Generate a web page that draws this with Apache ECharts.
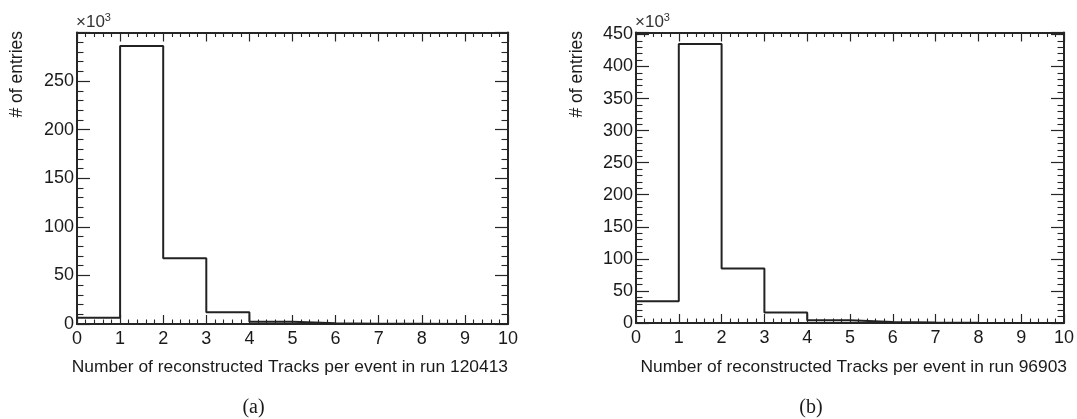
<!DOCTYPE html>
<html>
<head>
<meta charset="utf-8">
<script src="https://cdn.jsdelivr.net/npm/echarts@6/dist/echarts.min.js"></script>
<style>
html,body{margin:0;padding:0;background:#fff;}
#c{width:1077px;height:419px;}
</style>
</head>
<body>
<div id="c"></div>
<script>
// Bin edges (number of reconstructed tracks)
const binEdges = [0, 1, 2, 3, 4, 5, 6, 7, 8, 9, 10];
// Entries per bin, in units of 10^3
const countsA = [6.5, 286, 67.6, 12, 2.4, 0.7, 0.3, 0.15, 0.08, 0.04]; // run 120413
const countsB = [33.8, 435, 84.8, 16.2, 4.2, 1.6, 0.6, 0.3, 0.15, 0.08]; // run 96903
const yMaxA = 300;
const yMaxB = 453;
const xTitleA = 'Number of reconstructed Tracks per event in run 120413';
const xTitleB = 'Number of reconstructed Tracks per event in run 96903';
const yTitle = '# of entries';
const captions = ['(a)', '(b)'];

function stepData(counts) {
  return binEdges.map((e, i) => [e, counts[Math.min(i, counts.length - 1)]]);
}

const FONT = '"Liberation Sans", Arial, Helvetica, sans-serif';
const frameColor = '#262626';
const lineColor = '#222';

function xAxisDef(grid, pos) {
  return {
    type: 'value', gridIndex: grid, position: pos, min: 0, max: 10, interval: 1,
    axisLine: {show: true, onZero: false, lineStyle: {color: frameColor, width: 2}},
    axisTick: {show: true, inside: true, length: 9, lineStyle: {color: frameColor, width: 1.2}},
    minorTick: {show: true, splitNumber: 5, length: 4.5, lineStyle: {color: frameColor, width: 1.1}},
    splitLine: {show: false}, minorSplitLine: {show: false},
    axisLabel: pos === 'bottom' ? {show: true, margin: 6, fontFamily: FONT, fontSize: 18, color: '#1a1a1a'} : {show: false}
  };
}
function yAxisDef(grid, pos, max) {
  return {
    type: 'value', gridIndex: grid, position: pos, min: 0, max: max, interval: 50,
    axisLine: {show: true, onZero: false, lineStyle: {color: frameColor, width: 2}},
    axisTick: {show: true, inside: true, length: 13, lineStyle: {color: frameColor, width: 1.2}},
    minorTick: {show: true, splitNumber: 5, length: 6.5, lineStyle: {color: frameColor, width: 1.1}},
    splitLine: {show: false}, minorSplitLine: {show: false},
    axisLabel: pos === 'left' ? {show: true, margin: 3, showMaxLabel: false, fontFamily: FONT, fontSize: 18, color: '#1a1a1a'} : {show: false}
  };
}

const chart = echarts.init(document.getElementById('c'), null, {renderer: 'canvas'});
const expStyle = {fontSize: 11, fontFamily: FONT, fill: '#333', verticalAlign: 'top', padding: [0, 0, 10, 0]};
const option = {
  animation: false,
  backgroundColor: '#fff',
  grid: [
    {left: 77, top: 32.5, width: 431, height: 291.5},
    {left: 636, top: 32.5, width: 431, height: 290.5}
  ],
  xAxis: [xAxisDef(0, 'bottom'), xAxisDef(0, 'top'), xAxisDef(1, 'bottom'), xAxisDef(1, 'top')],
  yAxis: [yAxisDef(0, 'left', yMaxA), yAxisDef(0, 'right', yMaxA), yAxisDef(1, 'left', yMaxB), yAxisDef(1, 'right', yMaxB)],
  series: [
    {type: 'line', xAxisIndex: 0, yAxisIndex: 0, step: 'end', symbol: 'none', data: stepData(countsA),
     lineStyle: {color: lineColor, width: 2}},
    {type: 'line', xAxisIndex: 2, yAxisIndex: 2, step: 'end', symbol: 'none', data: stepData(countsB),
     lineStyle: {color: lineColor, width: 2}}
  ],
  graphic: [
    {type: 'text', x: 508, y: 367, style: {text: xTitleA, font: '17.4px ' + FONT, fill: '#1a1a1a', align: 'right', verticalAlign: 'middle'}},
    {type: 'text', x: 1067, y: 367, style: {text: xTitleB, font: '17.4px ' + FONT, fill: '#1a1a1a', align: 'right', verticalAlign: 'middle'}},
    {type: 'text', x: 17, y: 31, rotation: Math.PI / 2, style: {text: yTitle, font: '17.5px ' + FONT, fill: '#1a1a1a', align: 'right', verticalAlign: 'middle'}},
    {type: 'text', x: 577, y: 31, rotation: Math.PI / 2, style: {text: yTitle, font: '17.5px ' + FONT, fill: '#1a1a1a', align: 'right', verticalAlign: 'middle'}},
    {type: 'text', x: 76, y: 33, style: {text: '×10{s|3}', rich: {s: expStyle}, font: '17px ' + FONT, fill: '#333', align: 'left', verticalAlign: 'bottom'}},
    {type: 'text', x: 635, y: 33, style: {text: '×10{s|3}', rich: {s: expStyle}, font: '17px ' + FONT, fill: '#333', align: 'left', verticalAlign: 'bottom'}},
    {type: 'text', x: 253.5, y: 408, style: {text: captions[0], font: '20px "Liberation Serif", "Times New Roman", serif', fill: '#1a1a1a', align: 'center', verticalAlign: 'middle'}},
    {type: 'text', x: 811, y: 408, style: {text: captions[1], font: '20px "Liberation Serif", "Times New Roman", serif', fill: '#1a1a1a', align: 'center', verticalAlign: 'middle'}}
  ]
};
chart.setOption(option);
</script>
</body>
</html>
